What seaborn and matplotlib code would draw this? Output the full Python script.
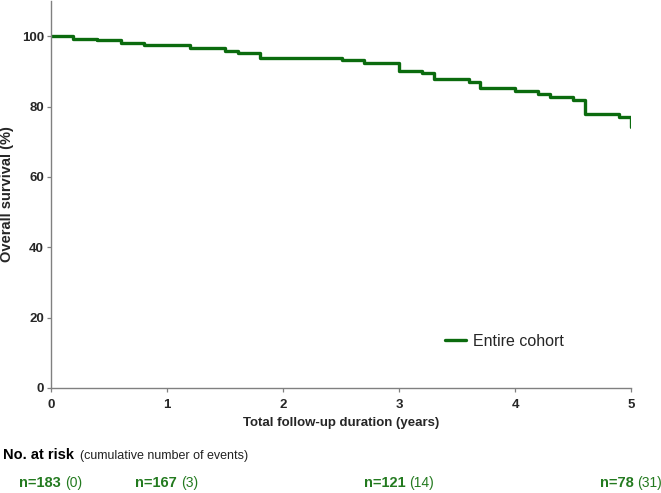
import matplotlib
matplotlib.use("Agg")
import matplotlib.pyplot as plt
import seaborn as sns
import pandas as pd
from matplotlib.offsetbox import TextArea, HPacker, AnnotationBbox

# ---- data ----
times = [0, 0.19, 0.40, 0.60, 0.80, 1.20, 1.50, 1.61, 1.80, 2.51, 2.70, 3.00,
         3.20, 3.30, 3.60, 3.70, 4.00, 4.20, 4.30, 4.50, 4.60, 4.90, 5.00]
survival = [100, 99.3, 98.8, 98.2, 97.6, 96.5, 95.9, 95.3, 93.9, 93.3, 92.5, 90.1,
            89.6, 87.9, 87.0, 85.3, 84.5, 83.6, 82.7, 81.8, 77.8, 77.0, 74.2]
series_name = "Entire cohort"
x_ticks = [0, 1, 2, 3, 4, 5]
y_ticks = [0, 20, 40, 60, 80, 100]
risk_times = [0, 1, 3, 5]
risk_n = [183, 167, 121, 78]
risk_events = [0, 3, 14, 31]

df = pd.DataFrame({"time": times, "survival": survival, "group": series_name})

LINE_GREEN = "#0b6b0e"
TEXT_GREEN = "#237a1f"
GRAY = "#808080"

sns.set_style("ticks")
plt.rcParams["font.family"] = ["Liberation Sans", "DejaVu Sans"]

W, H = 661, 493
fig = plt.figure(figsize=(W / 100, H / 100), dpi=100)
ax = fig.add_axes([51 / W, 1 - 388 / H, (631 - 51) / W, (388 - 1) / H])

sns.lineplot(data=df, x="time", y="survival", hue="group",
             palette=[LINE_GREEN], estimator=None, sort=False,
             drawstyle="steps-post", linewidth=2.4, ax=ax)

ax.set_xlim(0, 5)
ax.set_ylim(0, 110)
ax.set_xticks(x_ticks)
ax.set_yticks(y_ticks)
ax.set_xticklabels([str(v) for v in x_ticks], fontsize=9.5, fontweight="bold")
ax.set_yticklabels([str(v) for v in y_ticks], fontsize=9.5, fontweight="bold")
ax.tick_params(axis="both", length=3, width=0.9, color=GRAY)
ax.tick_params(axis="y", pad=2)
ax.tick_params(axis="x", pad=5)

for side in ["top", "right"]:
    ax.spines[side].set_visible(False)
for side in ["left", "bottom"]:
    ax.spines[side].set_color(GRAY)
    ax.spines[side].set_linewidth(1.0)

ax.set_xlabel("Total follow-up duration (years)", fontsize=9.5,
              fontweight="bold", labelpad=4.5)
ax.set_ylabel("Overall survival (%)", fontsize=10.5, fontweight="bold")
ax.yaxis.set_label_coords(-0.064, 0.5)

leg = ax.legend(loc="center left", bbox_to_anchor=(445 / W, 1 - 341 / H),
                bbox_transform=fig.transFigure, frameon=False, fontsize=11.5,
                borderpad=0, borderaxespad=0, handlelength=1.3,
                handletextpad=0.45)
for h in leg.get_lines():
    h.set_linewidth(2.4)

# ---- risk table ----
head = HPacker(children=[
    TextArea("No. at risk", textprops=dict(fontsize=10.5, fontweight="bold",
                                           color="black")),
    TextArea("(cumulative number of events)",
             textprops=dict(fontsize=9, color="#222222")),
], align="baseline", pad=0, sep=4)
fig.add_artist(AnnotationBbox(head, (3 / W, 1 - 455 / H),
                              xycoords="figure fraction",
                              box_alignment=(0, 0.5), frameon=False,
                              pad=0, annotation_clip=False))

for t, n, e in zip(risk_times, risk_n, risk_events):
    box = HPacker(children=[
        TextArea(f"n={n}", textprops=dict(fontsize=10.5, fontweight="bold",
                                          color=TEXT_GREEN)),
        TextArea(f"({e})", textprops=dict(fontsize=10, color=TEXT_GREEN)),
    ], align="baseline", pad=0, sep=3)
    ab = AnnotationBbox(box, (t, 1 - 483 / H),
                        xycoords=("data", "figure fraction"),
                        box_alignment=(0.5, 0.5), frameon=False, pad=0,
                        annotation_clip=False)
    ax.add_artist(ab)

fig.savefig("out.png", dpi=100)
